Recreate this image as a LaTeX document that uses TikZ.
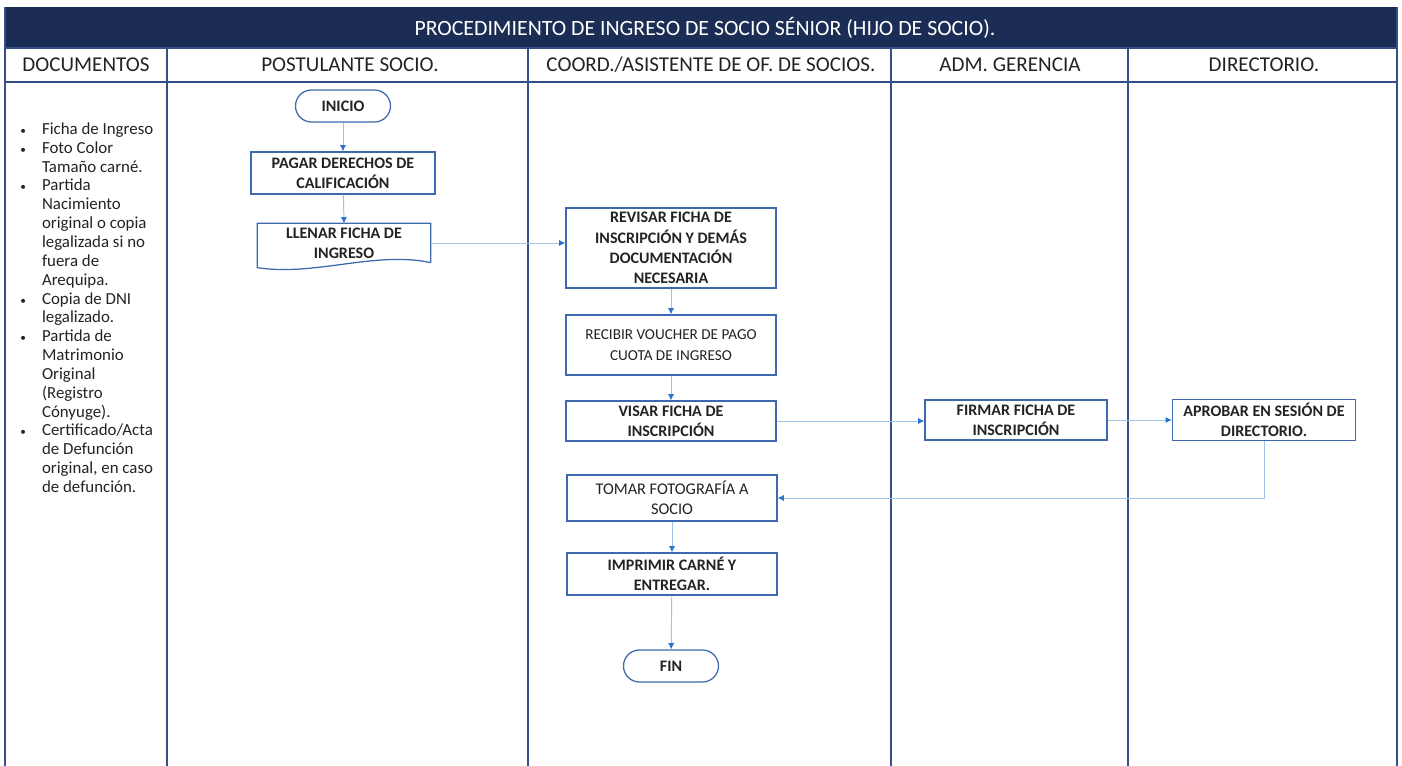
\documentclass[tikz,border=0pt]{standalone}
\usepackage{fontspec}
\setmainfont{Carlito}
\usepackage{tikz}
\usetikzlibrary{calc}
\usetikzlibrary{arrows.meta}

\definecolor{navy}{RGB}{27,45,84}
\definecolor{laneblue}{RGB}{52,78,135}
\definecolor{boxblue}{RGB}{62,105,175}
\definecolor{flowblue}{RGB}{160,196,232}
\definecolor{tipblue}{RGB}{40,115,205}
\definecolor{inkgray}{RGB}{35,35,35}

\begin{document}
\begin{tikzpicture}[x=0.025cm,y=-0.025cm,
    lane/.style={draw=laneblue,line width=0.8pt},
    act/.style={draw=boxblue,line width=0.9pt,fill=white,align=center,inner sep=2pt,
        text=inkgray,font=\fontsize{11.4}{14.5}\selectfont\bfseries},
    plainact/.style={act,font=\fontsize{10.8}{14.5}\selectfont},
    term/.style={act,rounded corners=0.4cm,minimum width=2.375cm,minimum height=0.8cm},
    flow/.style={draw=flowblue,line width=0.7pt,-{Latex[length=4.5pt,width=4.5pt,color=tipblue]}},
    hdr/.style={font=\fontsize{15}{18}\selectfont,text=inkgray}]
        \useasboundingbox (0,0) rectangle (1402,766);
        \newcommand*\hdrtop{48}
        \newcommand*\hdrbot{82}
        % title bar and lanes
        \fill[navy] (5,7) rectangle (1397,\hdrtop);
        \node[text=white,font=\fontsize{15.5}{18}\selectfont] (titulo) at (705,28)
            {PROCEDIMIENTO DE INGRESO DE SOCIO SÉNIOR (HIJO DE SOCIO).};
        \draw[lane] (5,7) -- (5,766);
        \draw[lane] (1397,7) -- (1397,766);
        \draw[lane] (5,\hdrtop) -- (1397,\hdrtop);
        \draw[draw=laneblue,line width=1.2pt] (5,\hdrbot) -- (1397,\hdrbot);
        \foreach \lx in {167,528,891,1128} {
            \draw[lane] (\lx,\hdrtop) -- (\lx,766);}
        \node[hdr] (hdoc) at (86,65) {DOCUMENTOS};
        \node[hdr] (hpost) at (350,65) {POSTULANTE SOCIO.};
        \node[hdr] (hcoord) at (711,65) {COORD./ASISTENTE DE OF. DE SOCIOS.};
        \node[hdr] (hadm) at (1010,65) {ADM. GERENCIA};
        \node[hdr] (hdir) at (1264,65) {DIRECTORIO.};
        % documents list
        \node[anchor=north west,inner sep=0pt,align=left,text=inkgray] (docs) at (20,121)
            {\fontsize{12}{13.4}\selectfont
            \begin{tabular}{@{}l@{\hspace{11.5pt}}l@{}}
            {\fontsize{8}{8}\selectfont\textbullet} & Ficha de Ingreso\\
            {\fontsize{8}{8}\selectfont\textbullet} & Foto Color\\
             & Tamaño carné.\\
            {\fontsize{8}{8}\selectfont\textbullet} & Partida\\
             & Nacimiento\\
             & original o copia\\
             & legalizada si no\\
             & fuera de\\
             & Arequipa.\\
            {\fontsize{8}{8}\selectfont\textbullet} & Copia de DNI\\
             & legalizado.\\
            {\fontsize{8}{8}\selectfont\textbullet} & Partida de\\
             & Matrimonio\\
             & Original\\
             & (Registro\\
             & Cónyuge).\\
            {\fontsize{8}{8}\selectfont\textbullet} & Certificado/Acta\\
             & de Defunción\\
             & original, en caso\\
             & de defunción.
            \end{tabular}};
        % postulante
        \node[term] (inicio) at (343,106) {INICIO};
        \node[act,minimum width=4.6cm,minimum height=1.05cm] (pagar) at (343,173)
            {PAGAR DERECHOS DE\\CALIFICACIÓN};
        \node[act,draw=none,fill=none,minimum width=4.3cm,minimum height=0.95cm] (llenar) at (344,243)
            {LLENAR FICHA DE\\INGRESO};
        \draw[draw=boxblue,line width=0.9pt] (llenar.south east) -- (llenar.north east)
            -- (llenar.north west) -- ($(llenar.south west)+(0,5)$)
            .. controls ($(llenar.south west)+(57,14)$) and ($(llenar.south east)+(-55,-12)$) .. (llenar.south east);
        % coordinador
        \node[act,minimum width=5.25cm,minimum height=2cm] (revisar) at (671,248)
            {REVISAR FICHA DE\\INSCRIPCIÓN Y DEMÁS\\DOCUMENTACIÓN\\NECESARIA};
        \node[plainact,minimum width=5.25cm,minimum height=1.5cm] (recibir) at (671,345)
            {RECIBIR VOUCHER DE PAGO\\CUOTA DE INGRESO};
        \node[act,minimum width=5.25cm,minimum height=1cm] (visar) at (671,421)
            {VISAR FICHA DE\\INSCRIPCIÓN};
        \node[plainact,font=\fontsize{11.6}{14.5}\selectfont,minimum width=5.25cm,minimum height=1.15cm] (tomar) at (672,498)
            {TOMAR FOTOGRAFÍA A\\SOCIO};
        \node[act,minimum width=5.25cm,minimum height=1.05cm] (imprimir) at (672,574)
            {IMPRIMIR CARNÉ Y\\ENTREGAR.};
        \node[term] (fin) at (671,666) {FIN};
        % gerencia y directorio
        \node[act,minimum width=4.55cm,minimum height=1cm] (firmar) at (1016,420)
            {FIRMAR FICHA DE\\INSCRIPCIÓN};
        \node[act,minimum width=4.575cm,minimum height=1.03cm] (aprobar) at (1264,420)
            {APROBAR EN SESIÓN DE\\DIRECTORIO.};
        % connectors
        \draw[flow] (inicio) -- (pagar);
        \draw[flow] (pagar) -- (llenar.north);
        \draw[flow] (llenar.east) -- (llenar.east -| revisar.west);
        \draw[flow] (revisar) -- (recibir);
        \draw[flow] (recibir) -- (visar);
        \draw[flow] (visar.east) -- (visar.east -| firmar.west);
        \draw[flow] (firmar) -- (aprobar);
        \draw[flow] (aprobar.south) |- (tomar.east);
        \draw[flow] (tomar) -- (imprimir);
        \draw[flow] (imprimir) -- (fin);
\end{tikzpicture}
\end{document}
